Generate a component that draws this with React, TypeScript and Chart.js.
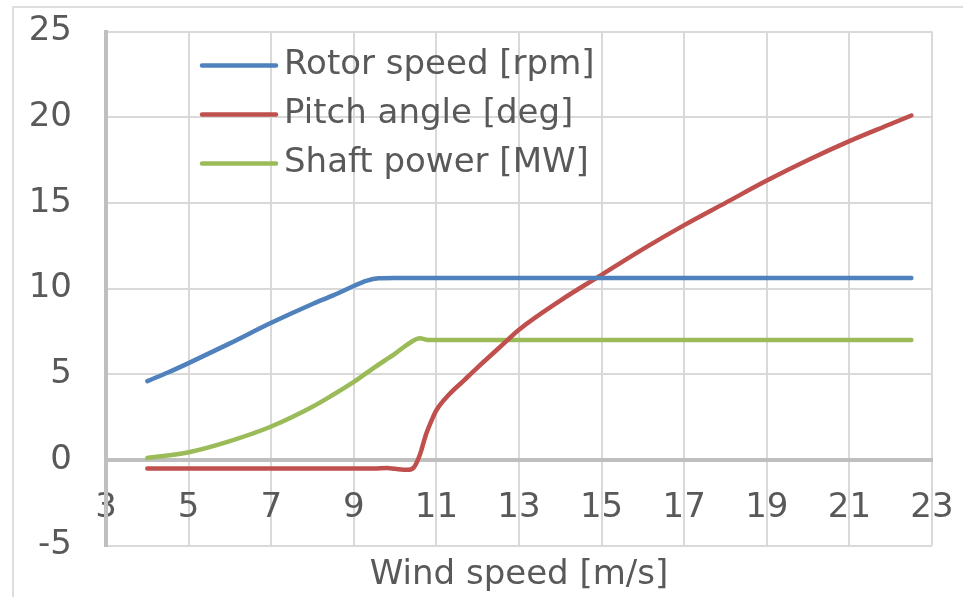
import React, { useEffect, useRef } from "react";
import { Chart, registerables } from "chart.js";

Chart.register(...registerables);

// Data
const rotorWind = [4, 4.5, 5, 6, 7, 8, 8.5, 9, 9.3, 9.6, 10, 22.5];
const rotorSpeed = [4.6, 5.1, 5.65, 6.8, 8.0, 9.1, 9.6, 10.15, 10.45, 10.6, 10.62, 10.62];

const pitchWind = [4, 6, 8, 9.5, 9.8, 10, 10.3, 10.45, 10.6, 10.75, 10.9, 11, 11.3, 11.65, 12, 12.5, 13, 14, 15, 16, 17, 18, 19, 20, 21, 22, 22.5];
const pitchAngle = [-0.5, -0.5, -0.5, -0.5, -0.47, -0.52, -0.58, -0.45, 0.3, 1.5, 2.4, 2.9, 3.8, 4.6, 5.4, 6.5, 7.6, 9.3, 10.8, 12.3, 13.7, 15.0, 16.3, 17.5, 18.6, 19.6, 20.1];

const powerWind = [4, 5, 6, 7, 8, 8.5, 9, 9.5, 10, 10.4, 10.6, 10.8, 22.5];
const shaftPower = [0.12, 0.45, 1.1, 1.95, 3.1, 3.8, 4.55, 5.4, 6.2, 6.9, 7.1, 7.0, 7.0];

const seriesLabels = ["Rotor speed [rpm]", "Pitch angle [deg]", "Shaft power [MW]"];
const seriesColors = ["#4f81bd", "#c0504d", "#9bbb59"];

const xTitle = "Wind speed [m/s]";
const xMin = 3, xMax = 23, xStep = 2;
const yMin = -5, yMax = 25, yStep = 5;

const FONT = "'DejaVu Sans', Verdana, sans-serif";
const TEXT = "#595959";

const toPoints = (xs: number[], ys: number[]) => xs.map((x, i) => ({ x, y: ys[i] }));

const frame = {
  id: "frame",
  beforeDraw(chart: any) {
    const ctx = chart.ctx;
    ctx.save();
    ctx.strokeStyle = "#dedede";
    ctx.lineWidth = 2;
    ctx.beginPath();
    ctx.moveTo(13, 597);
    ctx.lineTo(13, 7);
    ctx.lineTo(963, 7);
    ctx.stroke();
    ctx.restore();
  },
};

const legendPlugin = {
  id: "insideLegend",
  afterDraw(chart: any) {
    const ctx = chart.ctx;
    const { left, top, right, bottom } = chart.chartArea;
    ctx.save();
    ctx.font = `34px ${FONT}`;
    ctx.fillStyle = TEXT;
    ctx.textBaseline = "middle";
    chart.data.datasets.forEach((ds: any, i: number) => {
      const y = top + 34 + i * 49;
      ctx.strokeStyle = ds.borderColor;
      ctx.lineWidth = 4.5;
      ctx.lineCap = "round";
      ctx.beginPath();
      ctx.moveTo(left + 96, y);
      ctx.lineTo(left + 170, y);
      ctx.stroke();
      ctx.textAlign = "left";
      ctx.fillText(ds.label, left + 178, y);
    });
    // x-axis title, centred under the plot area
    ctx.textAlign = "center";
    ctx.fillText(xTitle, (left + right) / 2, bottom + 30);
    ctx.restore();
  },
};

const zeroPadding = (s: any) => {
  s.paddingTop = 0;
  s.paddingBottom = 0;
  s.paddingLeft = 0;
  s.paddingRight = 0;
};

export default function App() {
  const ref = useRef<HTMLCanvasElement | null>(null);

  useEffect(() => {
    if (!ref.current) return;
    const series = [
      toPoints(rotorWind, rotorSpeed),
      toPoints(pitchWind, pitchAngle),
      toPoints(powerWind, shaftPower),
    ];
    const chart = new Chart(ref.current, {
      type: "line",
      data: {
        datasets: series.map((data, i) => ({
          label: seriesLabels[i],
          data,
          borderColor: seriesColors[i],
          backgroundColor: seriesColors[i],
          borderWidth: 4.5,
          pointRadius: 0,
          fill: false,
          cubicInterpolationMode: "monotone" as const,
          borderCapStyle: "round" as const,
          borderJoinStyle: "round" as const,
        })),
      },
      options: {
        responsive: false,
        animation: false,
        events: [],
        layout: { padding: { left: 0, top: 31.5, right: 31, bottom: 51.4 } },
        plugins: {
          legend: { display: false },
          tooltip: { enabled: false },
          title: { display: false },
        },
        scales: {
          x: {
            type: "linear",
            position: { y: 0 } as any,
            min: xMin,
            max: xMax,
            ticks: {
              stepSize: xStep,
              color: TEXT,
              font: { family: FONT, size: 34 },
              padding: 28,
              maxRotation: 0,
              autoSkip: false,
            },
            grid: { color: "#d9d9d9", lineWidth: 2, drawTicks: false },
            border: { color: "#bfbfbf", width: 4 },
            afterFit: zeroPadding,
          },
          y: {
            type: "linear",
            position: "left",
            min: yMin,
            max: yMax,
            ticks: {
              stepSize: yStep,
              color: TEXT,
              font: { family: FONT, size: 34 },
              padding: 34,
            },
            grid: { color: "#d9d9d9", lineWidth: 2, drawTicks: false },
            border: { color: "#bfbfbf", width: 4 },
            afterFit: (s: any) => {
              s.width = 106;
              zeroPadding(s);
            },
          },
        },
      },
      plugins: [frame, legendPlugin],
    });
    return () => chart.destroy();
  }, []);

  return (
    <div style={{ position: "fixed", left: 0, top: 0, width: 963, height: 597, overflow: "hidden", background: "#fff" }}>
      <canvas ref={ref} width={963} height={597} style={{ display: "block" }} />
    </div>
  );
}
